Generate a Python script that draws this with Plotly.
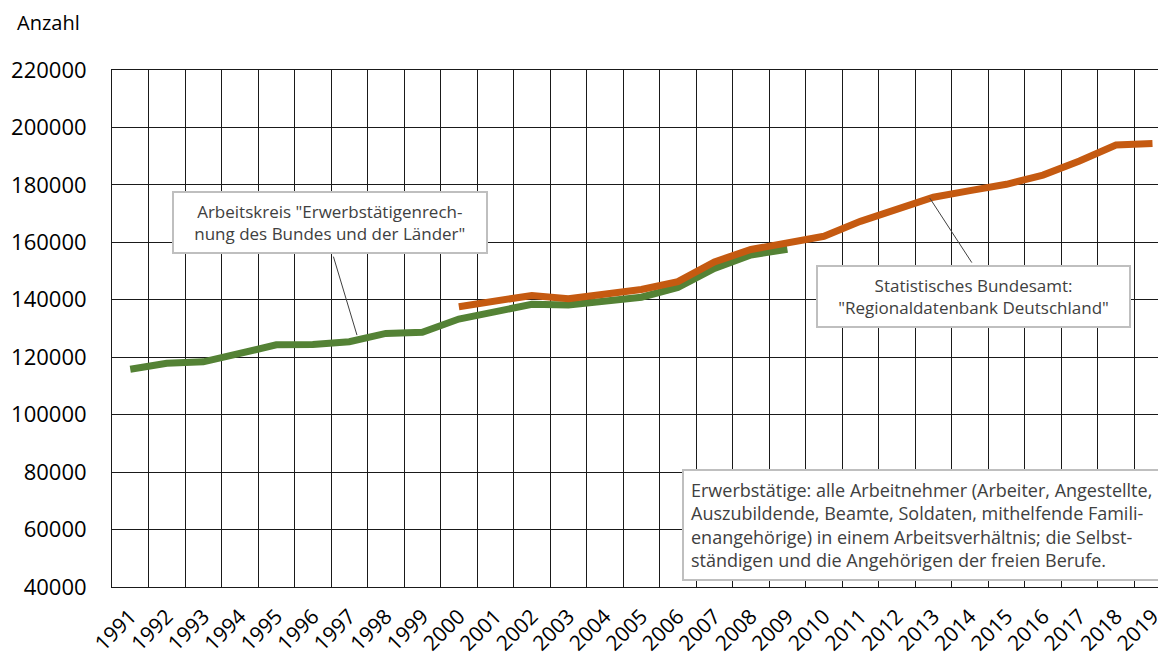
import plotly.graph_objects as go

years = list(range(1991, 2020))
tick_labels = [str(y) for y in years]

years_ak = list(range(1991, 2010))
erwerb_ak = [115800, 117900, 118400, 121300, 124300, 124400, 125400, 128300, 128700,
             133300, 135900, 138400, 138200, 139300, 140900, 144300, 150900, 155600, 157600]

years_destatis = list(range(2000, 2020))
erwerb_destatis = [137600, 139700, 141500, 140400, 141900, 143600, 146300, 153200, 157500, 159900,
                   162100, 167300, 171800, 175700, 178000, 180200, 183400, 188300, 193900, 194400]

FONT = "Open Sans"
TXT = "#404040"
GRID = "#1a1a1a"

fig = go.Figure()
fig.add_trace(go.Scatter(x=years_ak, y=erwerb_ak, mode="lines",
                         line=dict(color="#548235", width=7), name="AK ETR",
                         showlegend=False))
fig.add_trace(go.Scatter(x=years_destatis, y=erwerb_destatis, mode="lines",
                         line=dict(color="#C55A11", width=7), name="Destatis",
                         showlegend=False))

def box(size):
    return dict(bgcolor="white", bordercolor="#BFBFBF", borderwidth=2,
                font=dict(family=FONT, size=size, color=TXT))

SP = "&nbsp;" * 3

annotations = [
    # leader lines
    dict(x=1997.21, y=127700, xref="x", yref="y", text="", showarrow=True,
         arrowhead=0, arrowwidth=1, arrowcolor="#404040", ax=-24, ay=-80, standoff=0),
    dict(x=2012.90, y=175400, xref="x", yref="y", text="", showarrow=True,
         arrowhead=0, arrowwidth=1, arrowcolor="#404040", ax=43, ay=66, standoff=0),
    # boxes
    dict(x=1996.46, y=166900, xref="x", yref="y", showarrow=False, align="center",
         text=SP + 'Arbeitskreis "Erwerbstätigenrech-' + SP + '<br>'
              + SP + 'nung des Bundes und der Länder"' + SP,
         borderpad=7, **box(17)),
    dict(x=2014.10, y=141300, xref="x", yref="y", showarrow=False, align="center",
         text=SP + 'Statistisches Bundesamt:' + SP + '<br>'
              + SP + '"Regionaldatenbank Deutschland"' + SP,
         borderpad=7, **box(17)),
    dict(x=2012.67, y=61760, xref="x", yref="y", showarrow=False, align="left",
         text=("Erwerbstätige: alle Arbeitnehmer (Arbeiter, Angestellte,<br>"
               "Auszubildende, Beamte, Soldaten, mithelfende Famili-<br>"
               "enangehörige) in einem Arbeitsverhältnis; die Selbst-<br>"
               "ständigen und die Angehörigen der freien Berufe."),
         borderpad=7, **box(18)),
    dict(x=-0.092, y=1.0928, xref="paper", yref="paper", xanchor="left", yanchor="middle",
         text="Anzahl", showarrow=False, font=dict(family=FONT, size=20, color="#000000")),
]

# page body has an 8px default margin; compensate so the plot sits where the reference has it
fig.update_layout(
    width=1158, height=651,
    margin=dict(l=104, r=0, t=62, b=72, autoexpand=False),
    paper_bgcolor="white", plot_bgcolor="white",
    font=dict(family=FONT, color="#000000"),
    annotations=annotations,
    xaxis=dict(range=[1990.5, 2019.37], tickmode="array", tickvals=years, ticktext=tick_labels,
               tickangle=-45, showgrid=False, zeroline=False, automargin=False,
               showline=True, mirror=True, linecolor=GRID, linewidth=1,
               ticks="", ticklabelstandoff=8,
               tickfont=dict(family=FONT, size=21, color="#000000"),
               minor=dict(showgrid=True, tick0=1990.5, dtick=1, gridcolor=GRID,
                          gridwidth=1, ticks="")),
    yaxis=dict(range=[40000, 220000], dtick=20000, tick0=40000, tickformat="d",
               showgrid=True, gridcolor=GRID, gridwidth=1, zeroline=False, automargin=False,
               showline=True, linecolor=GRID, linewidth=1, ticks="",
               ticklabelstandoff=20,
               tickfont=dict(family=FONT, size=22, color="#000000")),
)

fig.write_html("out.html")
